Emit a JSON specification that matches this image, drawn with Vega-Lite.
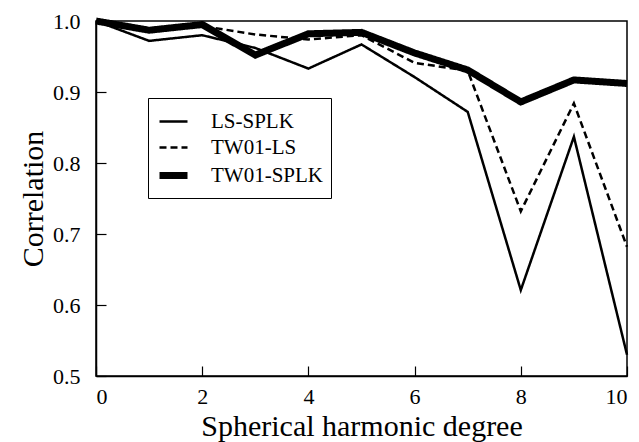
{
  "$schema": "https://vega.github.io/schema/vega-lite/v6.json",
  "width": 531,
  "height": 355,
  "autosize": {"type": "none"},
  "padding": {"left": 96, "top": 21, "right": 12, "bottom": 66},
  "config": {
    "font": "Liberation Serif",
    "view": {"stroke": "black", "strokeWidth": 1.5},
    "axis": {
      "domainColor": "black", "domainWidth": 1.5, "tickColor": "black", "tickWidth": 1.2, "ticks": true,
      "grid": false, "labelColor": "black", "titleColor": "black",
      "labelFont": "Liberation Serif", "titleFont": "Liberation Serif",
      "labelFontSize": 22, "titleFontSize": 30, "titleFontWeight": "normal"
    },
    "legend": {"labelFont": "Liberation Serif"}
  },
  "data": {"values": [
    {"degree": 0, "corr": 1.0, "series": "LS-SPLK"},
    {"degree": 1, "corr": 0.972, "series": "LS-SPLK"},
    {"degree": 2, "corr": 0.980, "series": "LS-SPLK"},
    {"degree": 3, "corr": 0.962, "series": "LS-SPLK"},
    {"degree": 4, "corr": 0.933, "series": "LS-SPLK"},
    {"degree": 5, "corr": 0.967, "series": "LS-SPLK"},
    {"degree": 6, "corr": 0.921, "series": "LS-SPLK"},
    {"degree": 7, "corr": 0.872, "series": "LS-SPLK"},
    {"degree": 8, "corr": 0.621, "series": "LS-SPLK"},
    {"degree": 9, "corr": 0.837, "series": "LS-SPLK"},
    {"degree": 10, "corr": 0.530, "series": "LS-SPLK"},
    {"degree": 0, "corr": 1.0, "series": "TW01-LS"},
    {"degree": 1, "corr": 0.986, "series": "TW01-LS"},
    {"degree": 2, "corr": 0.993, "series": "TW01-LS"},
    {"degree": 3, "corr": 0.981, "series": "TW01-LS"},
    {"degree": 4, "corr": 0.974, "series": "TW01-LS"},
    {"degree": 5, "corr": 0.980, "series": "TW01-LS"},
    {"degree": 6, "corr": 0.941, "series": "TW01-LS"},
    {"degree": 7, "corr": 0.930, "series": "TW01-LS"},
    {"degree": 8, "corr": 0.732, "series": "TW01-LS"},
    {"degree": 9, "corr": 0.884, "series": "TW01-LS"},
    {"degree": 10, "corr": 0.682, "series": "TW01-LS"},
    {"degree": 0, "corr": 1.0, "series": "TW01-SPLK"},
    {"degree": 1, "corr": 0.987, "series": "TW01-SPLK"},
    {"degree": 2, "corr": 0.995, "series": "TW01-SPLK"},
    {"degree": 3, "corr": 0.952, "series": "TW01-SPLK"},
    {"degree": 4, "corr": 0.982, "series": "TW01-SPLK"},
    {"degree": 5, "corr": 0.984, "series": "TW01-SPLK"},
    {"degree": 6, "corr": 0.955, "series": "TW01-SPLK"},
    {"degree": 7, "corr": 0.931, "series": "TW01-SPLK"},
    {"degree": 8, "corr": 0.886, "series": "TW01-SPLK"},
    {"degree": 9, "corr": 0.917, "series": "TW01-SPLK"},
    {"degree": 10, "corr": 0.912, "series": "TW01-SPLK"}
  ]},
  "mark": {"type": "line", "color": "black"},
  "encoding": {
    "x": {"field": "degree", "type": "quantitative",
      "scale": {"domain": [0, 10], "nice": false},
      "axis": {"title": "Spherical harmonic degree", "ticks": true, "tickSize": -10, "tickCount": 5, "labelPadding": 20}},
    "y": {"field": "corr", "type": "quantitative",
      "scale": {"domain": [0.5, 1], "nice": false, "zero": false},
      "axis": {"title": "Correlation", "ticks": true, "tickSize": -10, "tickCount": 5, "labelPadding": 26}},
    "strokeDash": {"field": "series", "type": "nominal",
      "scale": {"domain": ["LS-SPLK", "TW01-LS", "TW01-SPLK"], "range": [[1, 0], [7, 4], [1, 0]]},
      "legend": {"title": null, "orient": "none", "legendX": 52, "legendY": 77,
        "fillColor": "white", "strokeColor": "black", "padding": 8,
        "symbolType": "stroke", "symbolSize": 784, "symbolStrokeColor": "black",
        "labelFontSize": 21, "labelColor": "black", "labelOffset": 20, "rowPadding": 0}},
    "strokeWidth": {"field": "series", "type": "nominal",
      "scale": {"type": "ordinal", "domain": ["LS-SPLK", "TW01-LS", "TW01-SPLK"], "range": [2.5, 2.5, 7]},
      "legend": {"title": null, "orient": "none", "legendX": 52, "legendY": 77,
        "fillColor": "white", "strokeColor": "black", "padding": 8,
        "symbolType": "stroke", "symbolSize": 784, "symbolStrokeColor": "black",
        "labelFontSize": 21, "labelColor": "black", "labelOffset": 20, "rowPadding": 0}}
  }
}
